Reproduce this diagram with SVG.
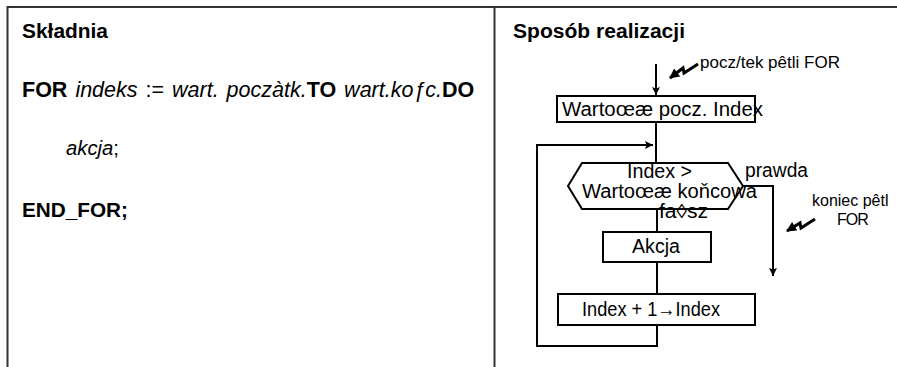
<svg xmlns="http://www.w3.org/2000/svg" width="897" height="367" viewBox="0 0 897 367">
<defs>
<style>
text{font-family:"Liberation Sans",Arial,sans-serif;fill:#000}
.b{font-size:20px;font-weight:bold}
.i{font-size:20px;font-style:italic}
.r{font-size:20px}
.s{font-size:17px}
.n{font-size:20px}
.bt{font-weight:bold;font-style:normal}
.it{font-style:italic;font-weight:normal}
.frame{stroke:#333;stroke-width:2;fill:none}
.box{stroke:#000;stroke-width:2;fill:#fff}
.ln{stroke:#000;stroke-width:2;fill:none}
.zz{stroke:#000;stroke-width:3;fill:none;stroke-linejoin:miter}
</style>
<marker id="ah" viewBox="0 0 10 10" refX="10" refY="5" markerWidth="10" markerHeight="8" markerUnits="userSpaceOnUse" orient="auto">
<path d="M0,0 L10,5 L0,10 L2,5 z" fill="#000"/>
</marker>
<marker id="zh" viewBox="0 0 10 10" refX="9" refY="5" markerWidth="12" markerHeight="10" markerUnits="userSpaceOnUse" orient="auto">
<path d="M0,0 L10,5 L0,10 z" fill="#000"/>
</marker>
</defs>
<g id="frame">
<line class="frame" x1="7" y1="7" x2="897" y2="7"/>
<line class="frame" x1="7.5" y1="6" x2="7.5" y2="367"/>
<line class="frame" x1="494.5" y1="6" x2="494.5" y2="367"/>
</g>
<g id="syntax">
<text class="b" x="22" y="38" textLength="86" lengthAdjust="spacingAndGlyphs">Składnia</text>
<text class="r" x="22" y="97" style="font-size:21.5px" word-spacing="2"><tspan class="bt">FOR</tspan> <tspan class="it">indeks</tspan> := <tspan class="it">wart. poczàtk.</tspan><tspan class="bt">TO</tspan> <tspan class="it">wart.koƒc.</tspan><tspan class="bt">DO</tspan></text>
<text class="i" x="66" y="155" textLength="53" lengthAdjust="spacingAndGlyphs">akcja<tspan style="font-style:normal">;</tspan></text>
<text class="b" x="22" y="217" textLength="106" lengthAdjust="spacingAndGlyphs">END_FOR;</text>
</g>
<g id="title">
<text class="b" x="513" y="38" textLength="172" lengthAdjust="spacingAndGlyphs">Sposób realizacji</text>
</g>
<g id="connectors">
<line class="ln" x1="656" y1="64" x2="656" y2="95" marker-end="url(#ah)"/>
<line class="ln" x1="656" y1="122" x2="656" y2="163"/>
<polyline class="ln" points="657,325 657,346 537,346 537,145 653,145" marker-end="url(#ah)"/>
<polyline class="ln" points="743,186 773,186 773,276" marker-end="url(#ah)"/>
<line class="ln" x1="657" y1="209" x2="657" y2="232"/>
<line class="ln" x1="657" y1="262" x2="657" y2="294"/>
<polyline class="zz" points="698,64 684,73 683,68 670,78" marker-end="url(#zh)"/>
<polyline class="zz" points="815,219 801,228 800,223 787,231" marker-end="url(#zh)"/>
</g>
<g id="label-start">
<text class="s" x="700" y="68" textLength="140" lengthAdjust="spacingAndGlyphs">pocz/tek pêtli FOR</text>
</g>
<g id="node-init">
<rect class="box" x="557" y="96" width="198" height="26"/>
<text class="n" x="562" y="116" textLength="201" lengthAdjust="spacingAndGlyphs">Wartoœæ pocz. Index</text>
</g>
<g id="node-cond">
<polygon class="box" stroke-width="2.5" points="568,186 582,163 728,163 743,186 728,209 582,209"/>
<text class="n" x="627" y="178" textLength="65" lengthAdjust="spacingAndGlyphs">Index &gt;</text>
<text class="n" x="582" y="198" textLength="175" lengthAdjust="spacingAndGlyphs">Wartoœæ koňcowa</text>
</g>
<g id="label-true">
<text class="n" x="745" y="177" textLength="63" lengthAdjust="spacingAndGlyphs">prawda</text>
</g>
<g id="label-false">
<text class="n" x="659" y="218" textLength="49" lengthAdjust="spacingAndGlyphs">fa◊sz</text>
</g>
<g id="node-action">
<rect class="box" x="603" y="232" width="108" height="30"/>
<text class="n" x="632" y="253" textLength="48" lengthAdjust="spacingAndGlyphs">Akcja</text>
</g>
<g id="node-inc">
<rect class="box" x="558" y="294" width="197" height="31"/>
<text class="n" x="582" y="316" textLength="138" lengthAdjust="spacingAndGlyphs">Index + 1→Index</text>
</g>
<g id="label-end">
<text class="s" style="font-size:16px"><tspan x="812" y="206">koniec pêtl</tspan><tspan x="837" y="225" letter-spacing="-1">FOR</tspan></text>
</g>
</svg>
